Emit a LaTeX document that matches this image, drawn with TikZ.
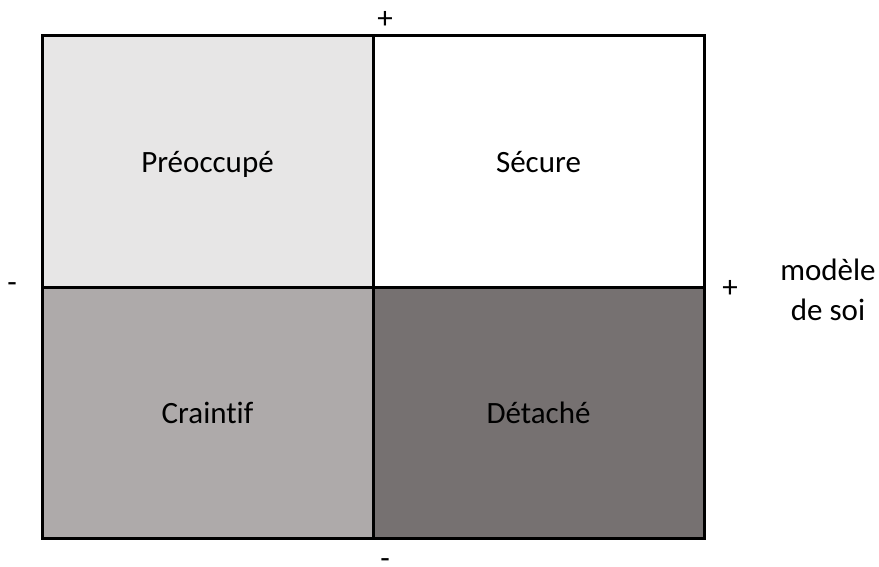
\documentclass[tikz,border=0pt]{standalone}
\usepackage{fontspec}
\setmainfont{Carlito}[Ligatures=NoCommon]
\usepackage{xcolor}
\usepackage{tikz}

\definecolor{quadlight}{HTML}{E7E6E6}
\definecolor{quadmid}{HTML}{AEAAAA}
\definecolor{quaddark}{HTML}{767171}

\begin{document}
\begin{tikzpicture}[x=1pt, y=-1pt,
        quad/.style={draw, line width=3pt, minimum width=331pt, minimum height=251.5pt,
            inner sep=0pt, text height=22pt, text depth=0pt, font=\fontsize{31}{37}\selectfont},
        sign/.style={inner sep=0pt, font=\fontsize{31}{37}\selectfont}]
        \useasboundingbox (0,0) rectangle (879,567);

        \node[quad, fill=quadlight] (preoc) at (207.5,161.25) {Préoccupé};
        \node[quad, fill=white] (secure) at (538.5,161.25) {Sécure};
        \node[quad, fill=quadmid] (craint) at (207.5,412.75) {Craintif};
        \node[quad, fill=quaddark] (detach) at (538.5,412.75) {Détaché};

        \node[sign] (top) at (385,20) {+};
        \node[sign] (bottom) at (385,564) {-};
        \node[sign] (left) at (12,288) {-};
        \node[sign] (right) at (730,289) {+};

        \node[align=center, inner sep=0pt, font=\fontsize{31}{40}\selectfont] (soi) at (828,290) {modèle\\de soi};
    \end{tikzpicture}
\end{document}
